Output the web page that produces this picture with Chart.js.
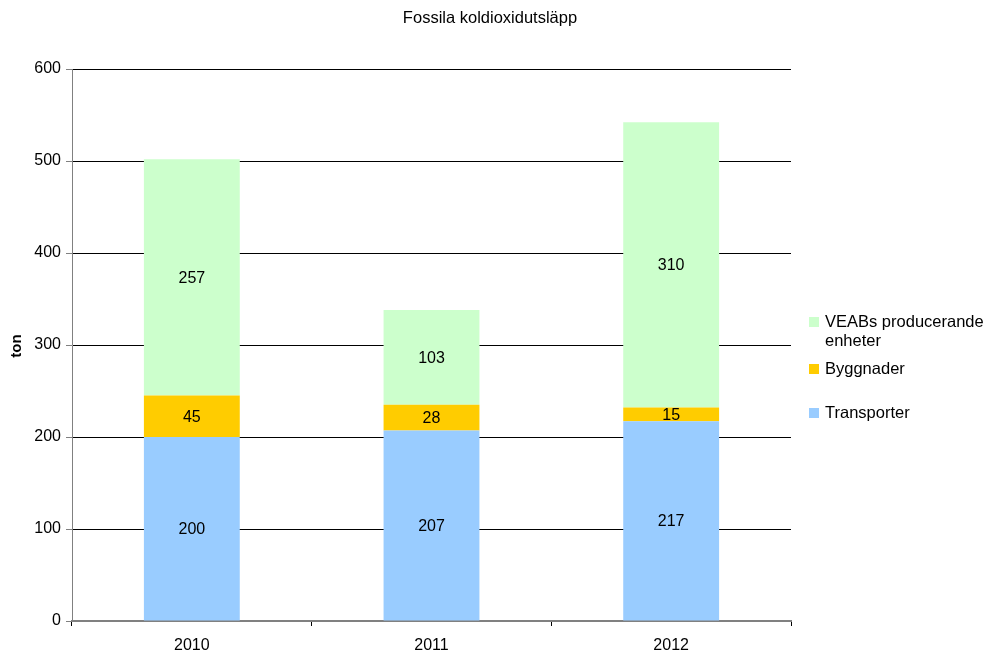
<!DOCTYPE html>
<html lang="sv">
<head>
    <meta charset="UTF-8">
    <title>Fossila koldioxidutsläpp</title>
    <style>
        body { margin: 0; background: #fff; }
        #wrap { width: 988px; height: 653px; }
    </style>
    <script src="https://cdn.jsdelivr.net/npm/chart.js"></script>
</head>
<body>
    <div id="wrap"><canvas id="myChart" width="988" height="653"></canvas></div>
    <script>
        const years = ['2010', '2011', '2012'];
        const transporter = [200, 207, 217];
        const byggnader = [45, 28, 15];
        const veabs = [257, 103, 310];
        const yTicks = [0, 100, 200, 300, 400, 500, 600];

        const FONT = 'Liberation Sans, Arial, sans-serif';

        // siffror mitt i varje stapeldel
        const segmentLabels = {
            id: 'segmentLabels',
            afterDatasetsDraw(chart) {
                const ctx = chart.ctx;
                ctx.save();
                ctx.font = '16px ' + FONT;
                ctx.fillStyle = '#000';
                ctx.textAlign = 'center';
                ctx.textBaseline = 'middle';
                chart.data.datasets.forEach((ds, i) => {
                    chart.getDatasetMeta(i).data.forEach((bar, j) => {
                        const mid = (bar.y + bar.base) / 2;
                        ctx.fillText(String(ds.data[j]), bar.x, mid + 1);
                    });
                });
                ctx.restore();
            }
        };

        // titel, axeltitel och legend ritas för hand
        const extras = {
            id: 'extras',
            afterDraw(chart) {
                const ctx = chart.ctx;
                ctx.save();
                ctx.fillStyle = '#000';
                ctx.font = '16.5px ' + FONT;
                ctx.textAlign = 'center';
                ctx.textBaseline = 'middle';
                ctx.fillText('Fossila koldioxidutsläpp', 490, 18);

                ctx.save();
                ctx.translate(17, 346);
                ctx.rotate(-Math.PI / 2);
                ctx.font = 'bold 15px ' + FONT;
                ctx.fillText('ton', 0, 0);
                ctx.restore();

                const items = [
                    { ds: 2, lines: ['VEABs producerande', 'enheter'], y: 322 },
                    { ds: 1, lines: ['Byggnader'], y: 369 },
                    { ds: 0, lines: ['Transporter'], y: 413 }
                ];
                ctx.textAlign = 'left';
                ctx.font = '16.5px ' + FONT;
                items.forEach(it => {
                    ctx.fillStyle = chart.data.datasets[it.ds].backgroundColor;
                    ctx.fillRect(809, it.y - 5, 10, 10);
                    ctx.fillStyle = '#000';
                    it.lines.forEach((t, k) => ctx.fillText(t, 825, it.y + k * 19));
                });
                ctx.restore();
            }
        };

        const ctx = document.getElementById('myChart').getContext('2d');
        new Chart(ctx, {
            type: 'bar',
            data: {
                labels: years,
                datasets: [
                    { label: 'Transporter', data: transporter, backgroundColor: '#99CCFF' },
                    { label: 'Byggnader', data: byggnader, backgroundColor: '#FFCC00' },
                    { label: 'VEABs producerande enheter', data: veabs, backgroundColor: '#CCFFCC' }
                ]
            },
            options: {
                responsive: false,
                animation: false,
                layout: { padding: { left: 0, right: 197, top: 69, bottom: 0 } },
                datasets: { bar: { barPercentage: 0.4, categoryPercentage: 1 } },
                scales: {
                    x: {
                        stacked: true,
                        offset: true,
                        grid: {
                            offset: true,
                            drawOnChartArea: false,
                            drawTicks: true,
                            tickLength: 5,
                            color: '#000'
                        },
                        border: { color: '#808080', width: 2 },
                        ticks: { color: '#000', font: { family: FONT, size: 16 }, padding: 10 },
                        afterFit(scale) { scale.height = 32; }
                    },
                    y: {
                        stacked: true,
                        min: 0,
                        max: 600,
                        afterBuildTicks(scale) { scale.ticks = yTicks.map(v => ({ value: v })); },
                        grid: { color: '#000', tickLength: 6, tickColor: '#808080' },
                        border: { color: '#808080', width: 1 },
                        ticks: { color: '#000', font: { family: FONT, size: 16 }, padding: 5 },
                        afterFit(scale) { scale.width = 72; }
                    }
                },
                plugins: {
                    legend: { display: false },
                    title: { display: false },
                    tooltip: { enabled: false }
                }
            },
            plugins: [segmentLabels, extras]
        });
    </script>
</body>
</html>
